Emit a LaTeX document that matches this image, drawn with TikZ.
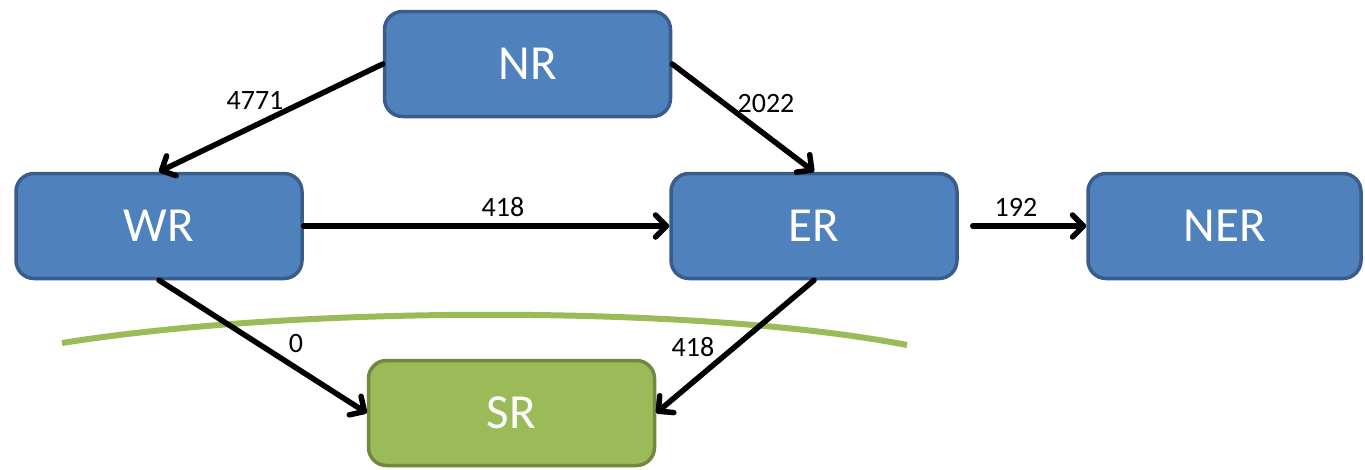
\documentclass[tikz,border=0pt]{standalone}
\usepackage{fontspec}
\setmainfont{Carlito}
\usetikzlibrary{arrows.meta,calc}
\definecolor{bfill}{HTML}{4F81BD}
\definecolor{bline}{HTML}{385D8A}
\definecolor{gfill}{HTML}{9BBB59}
\definecolor{gline}{HTML}{71893F}
\begin{document}
\begin{tikzpicture}[x=1pt,y=-1pt,
  box/.style={draw=bline,fill=bfill,line width=3.5pt,rounded corners=18pt,
    text=white,font=\fontsize{49}{55}\selectfont,inner sep=0pt,
    minimum width=286pt,minimum height=105pt},
  gbox/.style={box,draw=gline,fill=gfill},
  conn/.style={line width=5.5pt,line cap=round,
    -{Straight Barb[length=11pt,width=22pt,line join=round,line cap=round]}},
  lbl/.style={font=\fontsize{28}{32}\selectfont,text=black,inner sep=0pt}]
\useasboundingbox (0,0) rectangle (1365,469);
\node[box] (NR) at (527.5,64) {NR};
\node[box] (WR) at (159,226) {WR};
\node[box] (ER) at (814,226) {ER};
\node[box,minimum width=273pt] (NER) at (1224.5,226) {NER};
\node[gbox] (SR) at (511.5,413) {SR};
\draw[gfill,line width=6pt] (62,343) .. controls (300,305) and (700,305) .. (907,345);
\draw[conn] (NR.west) -- (WR.north);
\draw[conn] (NR.east) -- (ER.north);
\draw[conn] (WR.east) -- (ER.west);
\draw[conn,shorten <=14pt] (ER.east) -- (NER.west);
\draw[conn] (WR.south) -- (SR.west);
\draw[conn] (ER.south) -- (SR.east);
\node[lbl] (l1) at (255,100) {4771};
\node[lbl] (l2) at (766,104) {2022};
\node[lbl] (l3) at (503,207) {418};
\node[lbl] (l4) at (1016,207) {192};
\node[lbl] (l5) at (296,344) {0};
\node[lbl] (l6) at (693,347) {418};
\end{tikzpicture}
\end{document}
